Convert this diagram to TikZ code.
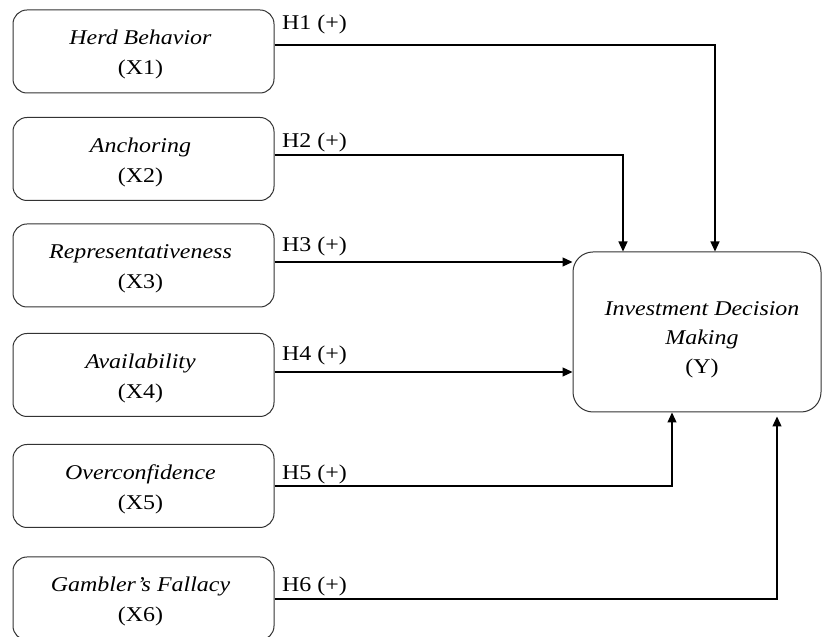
\documentclass[tikz,border=0pt]{standalone}
\usepackage{fontspec}
\setmainfont[FakeStretch=1.14]{Liberation Serif}
\usetikzlibrary{arrows.meta}
\begin{document}
\begin{tikzpicture}[x=1pt,y=1pt,
  var/.style={draw=black!80, line width=1pt, rounded corners=14pt, minimum width=261pt,
    minimum height=83pt, inner sep=0pt},
  txt/.style={align=center, inner sep=0pt, font=\fontsize{21}{30}\selectfont},
  link/.style={line width=1.2pt, -{Triangle[length=10pt,width=9pt]}},
  hyp/.style={anchor=base west, inner sep=0pt, font=\fontsize{21}{24}\selectfont}]
\useasboundingbox (0,0) rectangle (823,637);
\fill[white] (0,0) rectangle (823,637);
\begin{scope}
\clip (0,0) rectangle (823,637);
\node[var] (x1) at (143.5,585.5) {};
\node[var] (x2) at (143.5,478) {};
\node[var] (x3) at (143.5,371.5) {};
\node[var] (x4) at (143.5,262) {};
\node[var] (x5) at (143.5,151) {};
\node[var] (x6) at (143.5,38.5) {};
\node[var, minimum width=248pt, minimum height=160pt, rounded corners=20pt] (y) at (697,305) {};
\end{scope}

\node[txt] (t1) at ([xshift=-3pt,yshift=-3pt]x1.center) {\textit{Herd Behavior}\\(X1)};
\node[txt] (t2) at ([xshift=-3pt,yshift=-3pt]x2.center) {\textit{Anchoring}\\(X2)};
\node[txt] (t3) at ([xshift=-3pt,yshift=-3pt]x3.center) {\textit{Representativeness}\\(X3)};
\node[txt] (t4) at ([xshift=-3pt,yshift=-3pt]x4.center) {\textit{Availability}\\(X4)};
\node[txt] (t5) at ([xshift=-3pt,yshift=-3pt]x5.center) {\textit{Overconfidence}\\(X5)};
\node[txt] (t6) at ([xshift=-3pt,yshift=-3pt]x6.center) {\textit{Gambler’s Fallacy}\\(X6)};
\node[txt, font=\fontsize{21}{29}\selectfont] (ty) at ([xshift=5pt,yshift=-8pt]y.center)
  {\textit{Investment Decision}\\\textit{Making}\\(Y)};

\draw[link] (x1.east |- 0,592) -| ([xshift=18pt]y.north);
\draw[link] (x2.east |- 0,482) -| ([xshift=-74pt]y.north);
\draw[link] (x3.east |- 0,375) -- (y.west |- 0,375);
\draw[link] (x4.east |- 0,265) -- (y.west |- 0,265);
\draw[link] (x5.east |- 0,151) -| ([xshift=-25pt]y.south);
\draw[link] (x6.east |- 0,38) -| ([xshift=80pt,yshift=-4pt]y.south);

\node[hyp] (h1) at (282,607) {H1 (+)};
\node[hyp] (h2) at (282,489) {H2 (+)};
\node[hyp] (h3) at (282,385) {H3 (+)};
\node[hyp] (h4) at (282,276) {H4 (+)};
\node[hyp] (h5) at (282,157) {H5 (+)};
\node[hyp] (h6) at (282,45) {H6 (+)};
\end{tikzpicture}
\end{document}
